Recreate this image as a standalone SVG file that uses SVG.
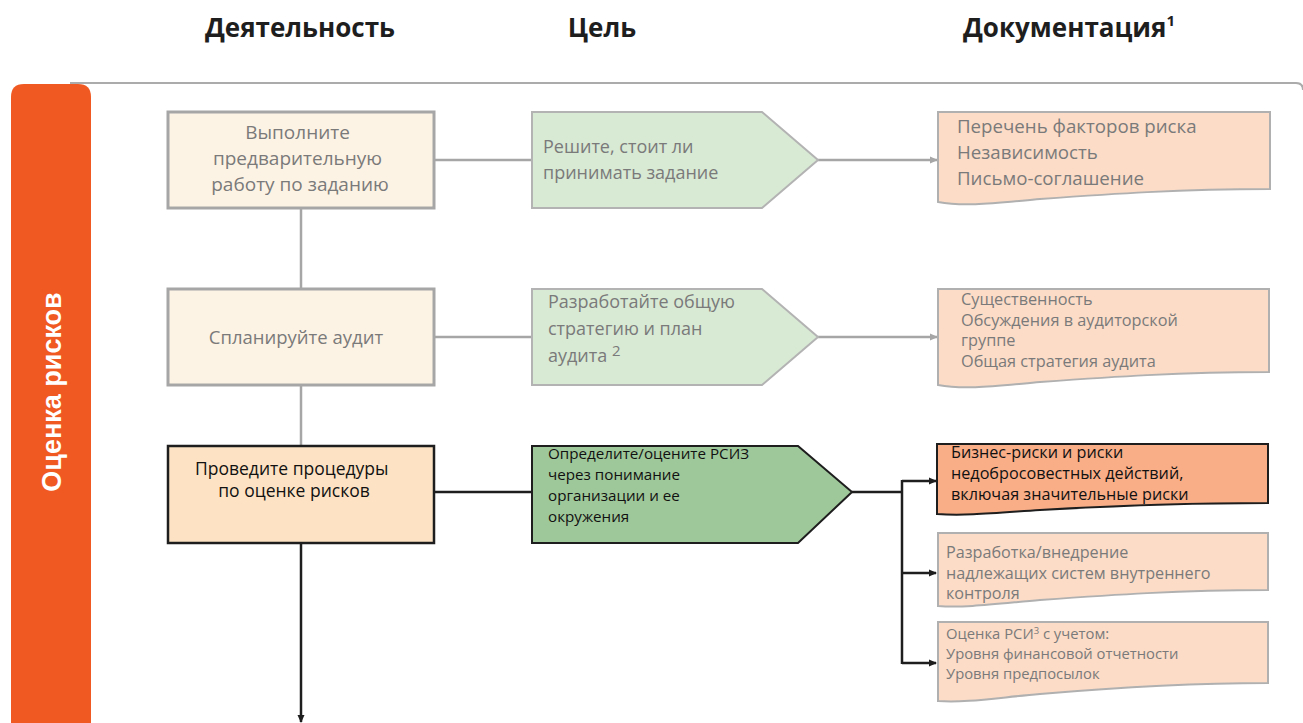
<svg xmlns="http://www.w3.org/2000/svg" width="1303" height="723" viewBox="0 0 1303 723">
  <style>
    .hdr { font-family: "Open Sans", "Liberation Sans", sans-serif; font-weight: bold; font-size: 26px; fill: #1e1e1e; }
    .gtxt { font-family: "Open Sans", "Liberation Sans", sans-serif; fill: #7a7a7a; }
    .btxt { font-family: "Open Sans", "Liberation Sans", sans-serif; fill: #111; }
    .act { fill: #fdf3e4; stroke: #a6a6a6; stroke-width: 3; }
    .act-on { fill: #fde3c3; stroke: #1e1e1e; stroke-width: 2.5; }
    .goal { fill: #d8e9d4; stroke: #b3b3b3; stroke-width: 2; }
    .goal-on { fill: #9fc89a; stroke: #1e1e1e; stroke-width: 2; }
    .doc { fill: #fcdcc7; stroke: #b0b0b0; stroke-width: 2; }
    .doc-on { fill: #f9ae88; stroke: #1e1e1e; stroke-width: 2; }
    .cg { stroke: #a6a6a6; stroke-width: 2.5; fill: none; }
    .cb { stroke: #1e1e1e; stroke-width: 2.5; fill: none; }
  </style>
  <defs>
    <marker id="ag" markerWidth="8" markerHeight="8" refX="7" refY="4" orient="auto" markerUnits="userSpaceOnUse">
      <path d="M0,0.5 L8,4 L0,7.5 Z" fill="#a6a6a6"/>
    </marker>
    <marker id="ab" markerWidth="8" markerHeight="8" refX="7" refY="4" orient="auto" markerUnits="userSpaceOnUse">
      <path d="M0,0.5 L8,4 L0,7.5 Z" fill="#1e1e1e"/>
    </marker>
  </defs>

  <rect width="1303" height="723" fill="#ffffff"/>

  <!-- column headings -->
  <g id="headers">
    <text class="hdr" x="300" y="37" text-anchor="middle">Деятельность</text>
    <text class="hdr" x="602" y="37" text-anchor="middle">Цель</text>
    <text class="hdr" x="963" y="37">Документация<tspan font-size="15" dy="-11">1</tspan></text>
  </g>

  <!-- top rule and phase bar -->
  <path d="M 70 83 H 1296 Q 1303 83 1303 90" fill="none" stroke="#ababab" stroke-width="2"/>
  <g id="phase">
    <path d="M 11 723 V 97 Q 11 84 24 84 H 78 Q 91 84 91 97 V 723 Z" fill="#f05a22"/>
    <text x="0" y="0" transform="translate(61,392) rotate(-90)" text-anchor="middle" font-family="Liberation Sans, Arial, sans-serif" font-weight="bold" font-size="27" fill="#ffffff">Оценка рисков</text>
  </g>

  <!-- connectors -->
  <g id="connectors">
    <line class="cg" x1="301" y1="208" x2="301" y2="289" stroke-width="3"/>
    <line class="cg" x1="301" y1="385" x2="301" y2="446" stroke-width="3"/>
    <line class="cb" x1="301" y1="543" x2="301" y2="722" marker-end="url(#ab)"/>
    <line class="cg" x1="434" y1="160" x2="532" y2="160"/>
    <line class="cg" x1="818" y1="160" x2="937" y2="160" marker-end="url(#ag)"/>
    <line class="cg" x1="434" y1="337" x2="532" y2="337"/>
    <line class="cg" x1="818" y1="337" x2="937" y2="337" marker-end="url(#ag)"/>
    <line class="cb" x1="434" y1="492" x2="532" y2="492"/>
    <line class="cb" x1="852" y1="492" x2="903" y2="492"/>
    <line class="cb" x1="902" y1="480" x2="902" y2="664"/>
    <line class="cb" x1="902" y1="481" x2="936" y2="481" marker-end="url(#ab)"/>
    <line class="cb" x1="902" y1="573" x2="936" y2="573" marker-end="url(#ab)"/>
    <line class="cb" x1="902" y1="663" x2="936" y2="663" marker-end="url(#ab)"/>
  </g>

  <!-- activities -->
  <g id="act-prelim">
    <rect class="act" x="168" y="112" width="266" height="96"/>
    <text class="gtxt" font-size="19" text-anchor="middle">
      <tspan x="300" y="139">Выполните</tspan>
      <tspan x="300" y="165">предварительную</tspan>
      <tspan x="300" y="191">работу по заданию</tspan>
    </text>
  </g>
  <g id="act-plan">
    <rect class="act" x="168" y="289" width="266" height="96"/>
    <text class="gtxt" font-size="18.5" text-anchor="middle" x="296" y="344">Спланируйте аудит</text>
  </g>
  <g id="act-risk">
    <rect class="act-on" x="168" y="446" width="266" height="97"/>
    <text class="btxt" font-size="17.5" text-anchor="middle">
      <tspan x="294" y="475">Проведите процедуры</tspan>
      <tspan x="294" y="497">по оценке рисков</tspan>
    </text>
  </g>

  <!-- goals -->
  <g id="goal-accept">
    <path class="goal" d="M 532 112 H 762 L 818 160 L 762 208 H 532 Z"/>
    <text class="gtxt" font-size="18">
      <tspan x="543" y="153">Решите, стоит ли</tspan>
      <tspan x="543" y="179">принимать задание</tspan>
    </text>
  </g>
  <g id="goal-strategy">
    <path class="goal" d="M 532 289 H 762 L 818 337 L 762 385 H 532 Z"/>
    <text class="gtxt" font-size="18">
      <tspan x="548" y="308">Разработайте общую</tspan>
      <tspan x="548" y="335">стратегию и план</tspan>
      <tspan x="548" y="362">аудита <tspan font-size="15" dy="-6">2</tspan></tspan>
    </text>
  </g>
  <g id="goal-identify">
    <path class="goal-on" d="M 532 446 H 798 L 852 492 L 798 543 H 532 Z"/>
    <text class="btxt" font-size="15.2">
      <tspan x="548" y="459">Определите/оцените РСИЗ</tspan>
      <tspan x="548" y="480">через понимание</tspan>
      <tspan x="548" y="501">организации и ее</tspan>
      <tspan x="548" y="522">окружения</tspan>
    </text>
  </g>

  <!-- documentation -->
  <g id="doc-accept">
    <path class="doc" d="M 938 112 H 1270 V 189 C 1180 189 1110 194 1040 199 C 995 203 965 207 938 202 Z"/>
    <text class="gtxt" font-size="18.7">
      <tspan x="957" y="133">Перечень факторов риска</tspan>
      <tspan x="957" y="159">Независимость</tspan>
      <tspan x="957" y="185">Письмо-соглашение</tspan>
    </text>
  </g>
  <g id="doc-strategy">
    <path class="doc" d="M 938 289 H 1269 V 372 C 1180 372 1110 377 1040 382 C 995 386 965 390 938 385 Z"/>
    <text class="gtxt" font-size="16.3">
      <tspan x="961" y="305">Существенность</tspan>
      <tspan x="961" y="326">Обсуждения в аудиторской</tspan>
      <tspan x="961" y="346">группе</tspan>
      <tspan x="961" y="367">Общая стратегия аудита</tspan>
    </text>
  </g>
  <g id="doc-risks">
    <path class="doc-on" d="M 937 444 H 1268 V 503 C 1180 503 1110 506 1040 510 C 995 513 965 516 937 514 Z"/>
    <text class="btxt" font-size="16.2">
      <tspan x="951" y="458">Бизнес-риски и риски</tspan>
      <tspan x="951" y="479">недобросовестных действий,</tspan>
      <tspan x="951" y="500">включая значительные риски</tspan>
    </text>
  </g>
  <g id="doc-controls">
    <path class="doc" d="M 938 533 H 1268 V 590 C 1180 590 1110 595 1040 600 C 995 604 965 608 938 606 Z"/>
    <text class="gtxt" font-size="16.2">
      <tspan x="946" y="558">Разработка/внедрение</tspan>
      <tspan x="946" y="579">надлежащих систем внутреннего</tspan>
      <tspan x="946" y="599">контроля</tspan>
    </text>
  </g>
  <g id="doc-levels">
    <path class="doc" d="M 938 622 H 1268 V 683 C 1180 683 1110 688 1040 694 C 995 698 965 703 938 701 Z"/>
    <text class="gtxt" font-size="14.8">
      <tspan x="946" y="639">Оценка РСИ<tspan font-size="9.5" dy="-5">3</tspan><tspan dy="5">  с учетом:</tspan></tspan>
      <tspan x="946" y="659">Уровня финансовой отчетности</tspan>
      <tspan x="946" y="679">Уровня предпосылок</tspan>
    </text>
  </g>
</svg>
